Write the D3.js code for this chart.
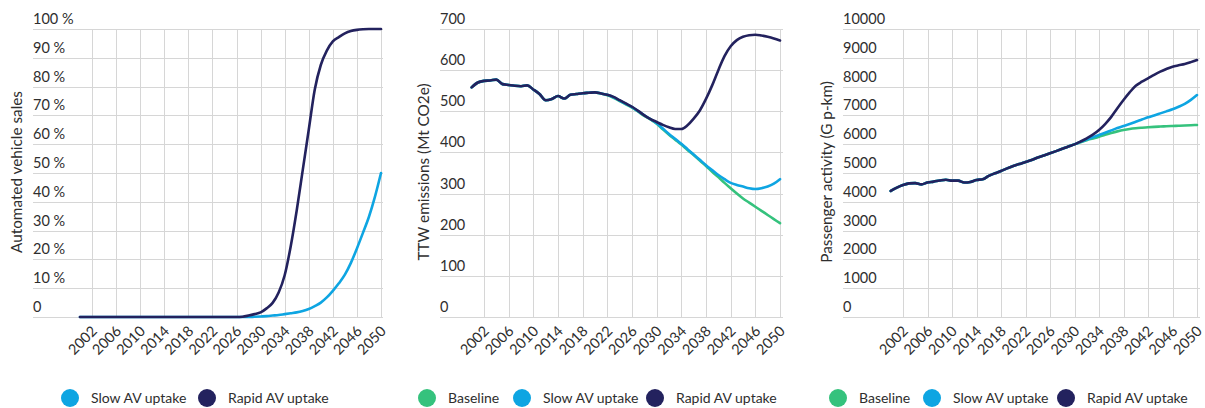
<!DOCTYPE html>
<html>
<head>
<meta charset="utf-8">
<script src="https://cdn.jsdelivr.net/npm/d3@7"></script>
<style>
  html, body { margin: 0; padding: 0; background: #fff; }
  svg { display: block; font-family: Lato, "Open Sans", sans-serif; }
  .grid line { stroke: #d6d6d6; stroke-width: 1; shape-rendering: crispEdges; }
  .tick-label { fill: #2e2e2e; font-size: 14.5px; }
  .axis-title { fill: #2e2e2e; font-size: 15.3px; }
  .legend text { fill: #2e2e2e; font-size: 14px; }
  .series { fill: none; stroke-width: 2.6; stroke-linejoin: round; stroke-linecap: round; }
</style>
</head>
<body>
<svg id="chart" width="1205" height="408"></svg>
<script>
// ------------------------------------------------------------
// Three small-multiple line charts: AV sales share, TTW
// emissions and passenger activity, 2000-2050, per scenario.
// ------------------------------------------------------------

const YEARS = d3.range(2000, 2051);
const X_TICKS = d3.range(2002, 2051, 4);

const COLORS = { baseline: '#35c27d', slow: '#0ea5e2', rapid: '#23225e' };
const NAMES = { baseline: 'Baseline', slow: 'Slow AV uptake', rapid: 'Rapid AV uptake' };

// --- Panel 1: automated vehicle sales (%) ---
const salesTicks = d3.range(0, 101, 10);
const salesSlow = [
    0, 0, 0, 0, 0, 0, 0, 0, 0, 0,
    0, 0, 0, 0, 0, 0, 0, 0, 0, 0,
    0, 0, 0, 0, 0, 0, 0, 0, 0, 0.1,
    0.2, 0.3, 0.5, 0.7, 1, 1.3, 1.6, 2.1, 2.8, 3.8,
    5, 6.8, 9.1, 11.7, 14.7, 18.8, 23.8, 29.2, 34.8, 41.8,
    50
];
const salesRapid = [
    0, 0, 0, 0, 0, 0, 0, 0, 0, 0,
    0, 0, 0, 0, 0, 0, 0, 0, 0, 0,
    0, 0, 0, 0, 0, 0, 0, 0.1, 0.5, 1,
    1.6, 3, 4.9, 8.5, 14.5, 24.5, 37, 51, 65, 79,
    87.5, 92.5, 95.7, 97.2, 98.5, 99.3, 99.7, 99.9, 100, 100,
    100
];

// --- Panel 2: TTW emissions (Mt CO2e) ---
const emisTicks = d3.range(0, 701, 100);
const emisBaseline = [
    558, 570, 574, 575, 577, 566, 564, 562, 561, 563,
    553, 542, 527, 530, 537, 531, 540, 542, 544, 545,
    546, 543, 539, 533, 525, 517, 509, 499, 489, 480,
    470, 456, 443, 431, 419, 406, 394, 380, 367, 353,
    340, 326, 313, 300, 288, 278, 268, 258, 248, 238,
    228
];
const emisSlow = [
    558, 570, 574, 575, 577, 566, 564, 562, 561, 563,
    553, 542, 527, 530, 537, 531, 540, 542, 544, 545,
    546, 543, 540, 534, 526, 518, 510, 500, 490, 481,
    471, 458, 445, 433, 421, 408, 395, 382, 369, 357,
    345, 335, 326, 321, 317, 313, 311, 313, 317, 324,
    335
];
const emisRapid = [
    558, 570, 574, 575, 577, 566, 564, 562, 561, 563,
    553, 542, 527, 530, 537, 531, 540, 542, 544, 545,
    546, 543, 540, 535, 527, 519, 511, 501, 490, 481,
    474, 467, 461, 457, 457, 466, 482, 502, 530, 563,
    600, 634, 658, 673, 681, 685, 686, 684, 681, 677,
    672
];

// --- Panel 3: passenger activity (G p-km) ---
const paxTicks = d3.range(0, 10001, 1000);
const paxBaseline = [
    4375, 4490, 4580, 4640, 4650, 4606, 4670, 4700, 4740, 4768,
    4735, 4734, 4670, 4690, 4757, 4780, 4900, 4990, 5069, 5160,
    5243, 5310, 5382, 5450, 5540, 5610, 5683, 5760, 5840, 5920,
    5995, 6070, 6140, 6200, 6262, 6330, 6390, 6445, 6493, 6530,
    6555, 6572, 6586, 6600, 6612, 6622, 6632, 6640, 6650, 6660,
    6667
];
const paxSlow = [
    4375, 4490, 4580, 4640, 4650, 4606, 4670, 4700, 4740, 4768,
    4735, 4734, 4670, 4690, 4757, 4780, 4900, 4990, 5069, 5160,
    5243, 5310, 5382, 5450, 5540, 5610, 5683, 5760, 5840, 5920,
    5995, 6080, 6160, 6240, 6319, 6400, 6480, 6560, 6632, 6700,
    6780, 6855, 6933, 7000, 7070, 7140, 7211, 7300, 7400, 7540,
    7708
];
const paxRapid = [
    4375, 4490, 4580, 4640, 4650, 4606, 4670, 4700, 4740, 4768,
    4735, 4734, 4670, 4690, 4757, 4780, 4900, 4990, 5069, 5160,
    5243, 5310, 5382, 5450, 5540, 5610, 5683, 5760, 5840, 5920,
    5995, 6095, 6204, 6330, 6493, 6700, 6950, 7250, 7535, 7800,
    8030, 8170, 8288, 8410, 8518, 8610, 8692, 8740, 8785, 8850,
    8924
];

// layout per panel: grid box, where the 2002 / 2050 ticks sit, title x, legend x's
const TOP = 29, BOTTOM = 317;
const panels = [
    { title: 'Automated vehicle sales', left: 33, right: 383, x0: 92, x1: 381, titleX: 17,
      ticks: salesTicks, fmt: function (v) { return v === 0 ? '0' : v + ' %'; },
      series: [['slow', salesSlow], ['rapid', salesRapid]],
      legend: [['slow', 70], ['rapid', 207]] },
    { title: 'TTW emissions (Mt CO2e)', left: 440, right: 783, x0: 484, x1: 780, titleX: 424,
      ticks: emisTicks, fmt: String,
      series: [['baseline', emisBaseline], ['slow', emisSlow], ['rapid', emisRapid]],
      legend: [['baseline', 427], ['slow', 522], ['rapid', 655]] },
    { title: 'Passenger activity (G p-km)', left: 843, right: 1200, x0: 903, x1: 1197, titleX: 827,
      ticks: paxTicks, fmt: String,
      series: [['baseline', paxBaseline], ['slow', paxSlow], ['rapid', paxRapid]],
      legend: [['baseline', 838], ['slow', 932], ['rapid', 1066]] }
];

const svg = d3.select('#chart');

panels.forEach(function (p) {
    const g = svg.append('g');
    const x = d3.scaleLinear().domain([2002, 2050]).range([p.x0, p.x1]);
    const y = d3.scaleLinear().domain([0, d3.max(p.ticks)]).range([BOTTOM, TOP]);

    const grid = g.append('g').attr('class', 'grid');
    grid.selectAll('line.h').data(p.ticks).enter().append('line').attr('class', 'h')
        .attr('x1', p.left).attr('x2', p.right)
        .attr('y1', function (d) { return Math.round(y(d)) + 0.5; })
        .attr('y2', function (d) { return Math.round(y(d)) + 0.5; });
    grid.selectAll('line.v').data(X_TICKS).enter().append('line').attr('class', 'v')
        .attr('x1', function (d) { return Math.round(x(d)) + 0.5; })
        .attr('x2', function (d) { return Math.round(x(d)) + 0.5; })
        .attr('y1', TOP).attr('y2', BOTTOM);

    // y tick labels sit just above their gridline
    g.selectAll('text.yl').data(p.ticks).enter().append('text')
        .attr('class', 'tick-label yl')
        .attr('x', p.left).attr('y', function (d) { return y(d) - 5; })
        .text(p.fmt);

    // x tick labels rotated -45
    g.selectAll('text.xl').data(X_TICKS).enter().append('text')
        .attr('class', 'tick-label xl')
        .attr('text-anchor', 'end')
        .attr('transform', function (d) { return 'translate(' + (x(d) + 6) + ',' + 332 + ') rotate(-45)'; })
        .text(String);

    g.append('text').attr('class', 'axis-title')
        .attr('text-anchor', 'middle')
        .attr('transform', 'translate(' + (p.titleX + 5) + ',' + 172 + ') rotate(-90)')
        .text(p.title);

    const line = d3.line()
        .x(function (d, i) { return x(YEARS[i]); })
        .y(function (d) { return y(d); })
        .curve(d3.curveMonotoneX);

    p.series.forEach(function (s) {
        g.append('path').attr('class', 'series')
            .attr('stroke', COLORS[s[0]])
            .attr('d', line(s[1]));
    });

    const lg = g.append('g').attr('class', 'legend');
    p.legend.forEach(function (l) {
        lg.append('circle').attr('cx', l[1]).attr('cy', 398).attr('r', 9).attr('fill', COLORS[l[0]]);
        lg.append('text').attr('x', l[1] + 21).attr('y', 403).text(NAMES[l[0]]);
    });
});
</script>
</body>
</html>
